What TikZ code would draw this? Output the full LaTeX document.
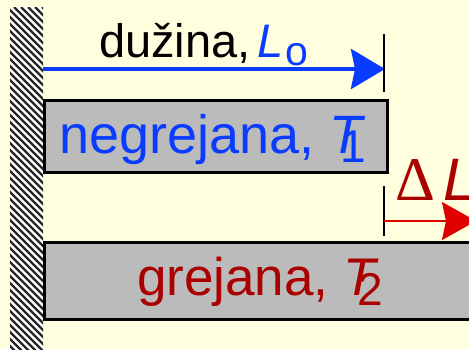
\documentclass[tikz,border=0pt]{standalone}
\usepackage{fontspec}
\setmainfont{Liberation Sans}
\newfontfamily\serifgr{Liberation Serif}
\usetikzlibrary{arrows.meta}
\definecolor{bgcol}{HTML}{FFFFE0}
\definecolor{barcol}{HTML}{BBBBBB}
\definecolor{myblue}{HTML}{0A3CFF}
\definecolor{darkred}{HTML}{AA0000}
\definecolor{arrred}{HTML}{E00000}
\tikzset{
  bar/.style={fill=barcol,draw=black,line width=2.5pt},
  tick/.style={draw=black,line width=2pt},
  lbl/.style={inner sep=0pt,outer sep=0pt,anchor=base west},
}
\begin{document}
\begin{tikzpicture}[x=1pt,y=-1pt]
\useasboundingbox (0,0) rectangle (469,349);
\fill[bgcol] (0,0) rectangle (469,349);
% wall
\fill[white] (10,7) rectangle (43,349);
\begin{scope}
\clip (10,7) rectangle (43,349);
\foreach \k in {-50,...,6}{
  \draw[black!85,line width=2.4pt] (\k*7,7) -- ++(400,400);
}
\end{scope}
% top bar
\node[bar,minimum width=343pt,minimum height=72pt,anchor=north west,inner sep=0pt] (topbar) at (43,99) {};
\node[lbl,text=myblue] (t1) at (59,153) {\fontsize{54}{54}\selectfont negrejana, \textit{T}\kern-25pt\raisebox{-9pt}{\fontsize{46}{46}\selectfont 1}};
% bottom bar
\node[bar,minimum width=460pt,minimum height=77pt,anchor=north west,inner sep=0pt] (botbar) at (43,241) {};
\node[lbl,text=darkred] (t2) at (137,295) {\fontsize{53}{53}\selectfont grejana, \textit{T}\kern-21pt\raisebox{-10pt}{\fontsize{46}{46}\selectfont 2}};
% length arrow
\coordinate (a0) at (43,69);
\coordinate (a1) at (385,69);
\draw[myblue,line width=4pt,-{Stealth[length=34pt,width=40pt,inset=4pt]}] (a0) -- (a1);
\coordinate (k0) at (384,34);
\coordinate (k1) at (384,92);
\draw[tick] (k0) -- (k1);
\node[lbl] (duz) at (99,57) {\fontsize{47}{47}\selectfont dužina,\kern7pt\textcolor{myblue}{\textit{L}\kern2pt\raisebox{-8pt}{\fontsize{41}{41}\selectfont o}}};
% delta L
\coordinate (d0) at (384,186);
\coordinate (d1) at (384,236);
\draw[tick] (d0) -- (d1);
\coordinate (r0) at (384,221);
\coordinate (r1) at (476,221);
\node[lbl,text=darkred] (dl) at (395,200) {{\serifgr\fontsize{62}{62}\selectfont Δ}\kern9pt{\fontsize{60}{60}\selectfont\textit{L}}};
\draw[arrred,line width=2pt,-{Stealth[length=34pt,width=38pt,inset=4pt]}] (r0) -- (r1);
\end{tikzpicture}
\end{document}
